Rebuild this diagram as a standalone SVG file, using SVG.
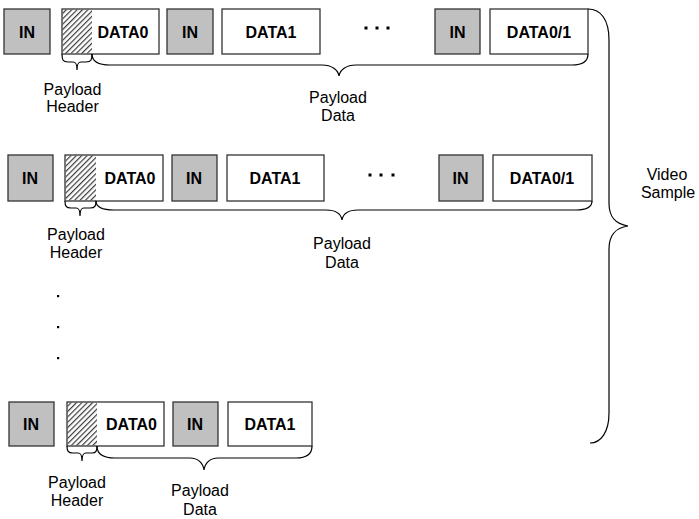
<svg xmlns="http://www.w3.org/2000/svg" width="699" height="519" viewBox="0 0 699 519">
<defs>
<pattern id="hatch" patternUnits="userSpaceOnUse" width="3.8" height="3.8" patternTransform="rotate(45)">
<line x1="0.6" y1="0" x2="0.6" y2="3.8" stroke="#3a3a3a" stroke-width="1.2"/>
</pattern>
</defs>
<style>
.in{fill:#c0c0c0;stroke:#333;stroke-width:1.3}
.data{fill:#fff;stroke:#333;stroke-width:1.3}
.hat{fill:url(#hatch);stroke:none}
.bt{font-family:"Liberation Sans",Arial,sans-serif;font-weight:bold;font-size:16px;text-anchor:middle;fill:#000}
.lt{font-family:"Liberation Sans",Arial,sans-serif;font-size:16px;text-anchor:middle;fill:#000}
.br{fill:none;stroke:#000;stroke-width:1.2}
.dot{fill:#000}
</style>
<rect width="699" height="519" fill="#fff"/>

<!-- Row 1 -->
<g id="r1-in1"><rect class="in" x="4" y="9" width="46" height="45"/><text class="bt" x="27" y="37.5">IN</text></g>
<g id="r1-data0"><rect class="data" x="62" y="9" width="97" height="45"/><rect class="hat" x="62.6" y="9.6" width="29.4" height="43.8"/><text class="bt" x="123" y="37.5">DATA0</text></g>
<g id="r1-in2"><rect class="in" x="167" y="9" width="46" height="45"/><text class="bt" x="190" y="37.5">IN</text></g>
<g id="r1-data1"><rect class="data" x="222" y="9" width="98" height="45"/><text class="bt" x="271" y="37.5">DATA1</text></g>
<g id="r1-dots"><rect class="dot" x="364.5" y="26.5" width="3" height="3"/><rect class="dot" x="375.5" y="26.5" width="3" height="3"/><rect class="dot" x="386.5" y="26.5" width="3" height="3"/></g>
<g id="r1-in3"><rect class="in" x="435" y="9" width="45" height="45"/><text class="bt" x="457.5" y="37.5">IN</text></g>
<g id="r1-data01"><rect class="data" x="490" y="9" width="98" height="45"/><text class="bt" x="539" y="37.5">DATA0/1</text></g>
<g id="r1-hdr-label"><text class="lt" x="72.5" y="95">Payload</text><text class="lt" x="72.5" y="112">Header</text></g>
<g id="r1-data-label"><text class="lt" x="338" y="103">Payload</text><text class="lt" x="338" y="121">Data</text></g>

<!-- Row 2 -->
<g id="r2-in1"><rect class="in" x="8" y="155" width="45" height="46"/><text class="bt" x="30" y="183.5">IN</text></g>
<g id="r2-data0"><rect class="data" x="65" y="155" width="98" height="46"/><rect class="hat" x="65.6" y="155.6" width="30.4" height="44.8"/><text class="bt" x="130" y="183.5">DATA0</text></g>
<g id="r2-in2"><rect class="in" x="172" y="155" width="45" height="46"/><text class="bt" x="194" y="183.5">IN</text></g>
<g id="r2-data1"><rect class="data" x="227" y="155" width="97" height="46"/><text class="bt" x="275" y="183.5">DATA1</text></g>
<g id="r2-dots"><rect class="dot" x="368.5" y="173.5" width="3" height="3"/><rect class="dot" x="379.5" y="173.5" width="3" height="3"/><rect class="dot" x="391.5" y="173.5" width="3" height="3"/></g>
<g id="r2-in3"><rect class="in" x="439" y="155" width="44" height="46"/><text class="bt" x="460.5" y="183.5">IN</text></g>
<g id="r2-data01"><rect class="data" x="493" y="155" width="99" height="46"/><text class="bt" x="542" y="183.5">DATA0/1</text></g>
<g id="r2-hdr-label"><text class="lt" x="76" y="240">Payload</text><text class="lt" x="76" y="258">Header</text></g>
<g id="r2-data-label"><text class="lt" x="342" y="249">Payload</text><text class="lt" x="342" y="268">Data</text></g>

<!-- vertical dots -->
<g id="vdots"><rect class="dot" x="57" y="295" width="2.2" height="2.2"/><rect class="dot" x="57" y="326" width="2.2" height="2.2"/><rect class="dot" x="57" y="357" width="2.2" height="2.2"/></g>

<!-- Row 3 -->
<g id="r3-in1"><rect class="in" x="9" y="402" width="45" height="44"/><text class="bt" x="31" y="429.5">IN</text></g>
<g id="r3-data0"><rect class="data" x="67" y="402" width="97" height="44"/><rect class="hat" x="67.6" y="402.6" width="29.4" height="42.8"/><text class="bt" x="131.5" y="429.5">DATA0</text></g>
<g id="r3-in2"><rect class="in" x="173" y="402" width="45" height="44"/><text class="bt" x="195" y="429.5">IN</text></g>
<g id="r3-data1"><rect class="data" x="228" y="402" width="84" height="44"/><text class="bt" x="270" y="429.5">DATA1</text></g>
<g id="r3-hdr-label"><text class="lt" x="77" y="488">Payload</text><text class="lt" x="77" y="506">Header</text></g>
<g id="r3-data-label"><text class="lt" x="200" y="496">Payload</text><text class="lt" x="200" y="515">Data</text></g>

<g id="video-label"><text class="lt" x="667" y="180">Video</text><text class="lt" x="668" y="198">Sample</text></g>

<!-- connectors (braces) -->
<g id="connectors">
<path class="br" d="M62,54 C62,60 63,62 68,62 L73,62 C76,62 77,64 77,70 C77,64 78,62 81,62 L86,62 C91,62 92,60 92,54"/>
<path class="br" d="M92,54 C92,62 98,65 110,65 L322,65 C332,65 338,70 339,76 C340,70 346,65 356,65 L572,65 C582,65 588,62 588,54"/>
<path class="br" d="M65,201 C65,206 66,208 71,208 L76,208 C79,208 80,210 80,216 C80,210 81,208 84,208 L90,208 C95,208 96,206 96,201"/>
<path class="br" d="M96,201 C96,207 102,210 114,210 L326,210 C336,210 341,214 342,220 C343,214 348,210 358,210 L576,210 C586,210 592,208 592,201"/>
<path class="br" d="M67,446 C67,451 68,453 73,453 L78,453 C81,453 82,455 82,461 C82,455 83,453 86,453 L92,453 C96,453 97,451 97,446"/>
<path class="br" d="M97,446 C97,454 103,458 115,458 L190,458 C198,458 203,463 204,470 C205,463 210,458 218,458 L296,458 C307,458 312,454 312,446"/>
<path class="br" d="M588,9 C601,9 609,20 609,40 L609,203 C609,217 615,224 628,226 C615,228 609,235 609,249 L609,413 C609,432 601,443 590,443"/>
</g>
</svg>
